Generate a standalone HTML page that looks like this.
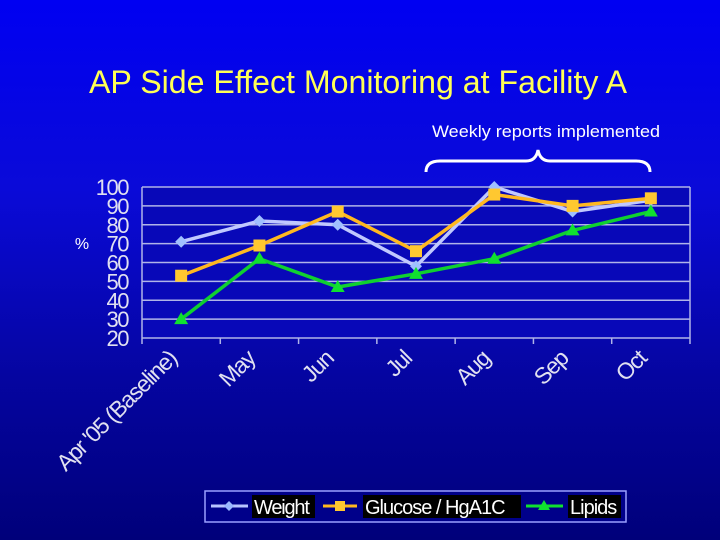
<!DOCTYPE html>
<html><head><meta charset="utf-8"><style>
html,body{margin:0;padding:0}
body{width:720px;height:540px;overflow:hidden;background:linear-gradient(#0000f2 0%,#0a0ad8 35%,#0505a0 70%,#00007a 100%);font-family:"Liberation Sans",sans-serif}
</style></head><body>
<svg id="c" width="720" height="540" xmlns="http://www.w3.org/2000/svg" style="position:absolute;left:0;top:0">
<text x="358" y="93" text-anchor="middle" font-size="32" fill="#ffff55" textLength="538" lengthAdjust="spacingAndGlyphs">AP Side Effect Monitoring at Facility A</text>
<text x="546" y="137" text-anchor="middle" font-size="17" fill="#ffffff" textLength="228" lengthAdjust="spacingAndGlyphs">Weekly reports implemented</text>
<path d="M426,172 Q426,161 440,161 L526,161 Q536,161 538,150 Q540,161 550,161 L636,161 Q650,161 650,172" fill="none" stroke="#fff" stroke-width="3"/>
<text x="82" y="249" text-anchor="middle" font-size="16" fill="#fff">%</text>
<g id="plot"></g>
<g>
<rect x="205" y="491" width="421" height="31" fill="#00008a" stroke="#9aa0ff" stroke-width="1.5"/>
<g><line x1="211" y1="506" x2="248" y2="506" stroke="#b8c4ff" stroke-width="3"/><path d="M229,501 l5,5 l-5,5 l-5,-5z" fill="#9ab8ff"/><rect x="252" y="495" width="63" height="23" fill="#000"/><text x="254" y="514" font-size="20" fill="#fff" letter-spacing="-1.2">Weight</text></g>
<g><line x1="323" y1="506" x2="357" y2="506" stroke="#ffb820" stroke-width="3"/><rect x="335" y="501" width="10" height="10" fill="#ffc830"/><rect x="363" y="495" width="158" height="23" fill="#000"/><text x="365" y="514" font-size="20" fill="#fff" letter-spacing="-1">Glucose / HgA1C</text></g>
<g><line x1="526" y1="506" x2="563" y2="506" stroke="#10e030" stroke-width="3"/><path d="M544,500 l6,10 h-12z" fill="#10e030"/><rect x="568" y="495" width="53" height="23" fill="#000"/><text x="570" y="514" font-size="20" fill="#fff" letter-spacing="-1">Lipids</text></g>
</g>
</svg>
<script>
const categories=["Apr '05 (Baseline)","May","Jun","Jul","Aug","Sep","Oct"];
const weight=[71,82,80,58,100,87,93];
const glucose=[53,69,87,66,96,90,94];
const lipids=[30,62,47,54,62,77,87];
const yTicks=[20,30,40,50,60,70,80,90,100];
const NS="http://www.w3.org/2000/svg";
const L=142,R=690,T=187,B=338;
const g=document.getElementById('plot');
const xs=i=>L+(i+0.5)*(R-L)/categories.length;
const ys=v=>B-(v-20)/80*(B-T);
function mk(t,a){const e=document.createElementNS(NS,t);for(const k in a)e.setAttribute(k,a[k]);g.appendChild(e);return e;}
let bg=mk('rect',{x:L,y:T,width:R-L,height:B-T,fill:'#0808b8'});


yTicks.forEach(v=>{
 let l=mk('line',{x1:L,x2:R,y1:ys(v),y2:ys(v),stroke:'#b0b4e8','stroke-width':1.5});
 
 
 let t=mk('text',{x:L-14,y:ys(v)+8,'text-anchor':'end','font-size':22,fill:'#e0e0f0','letter-spacing':-1.5});
 t.textContent=v;
 
 
});
let ax=mk('line',{x1:L,x2:L,y1:T,y2:B,stroke:'#b0b4e8','stroke-width':1.5});


let rb=mk('line',{x1:R,x2:R,y1:T,y2:B,stroke:'#b0b4e8','stroke-width':1.5});


for(let i=0;i<=categories.length;i++){
 let x=L+i*(R-L)/categories.length;
 let tk=mk('line',{x1:x,x2:x,y1:B,y2:B+6,stroke:'#b0b4e8','stroke-width':1.5});
 
 
}
categories.forEach((c,i)=>{
 let x=xs(i)-3,y=B+22;
 let t=mk('text',{x:x,y:y,'text-anchor':'end','font-size':23,fill:'#e0e0f0','letter-spacing':-1.3,transform:`rotate(-45 ${x} ${y})`});
 t.textContent=c;
 
 
});
function series(vals,color,mcolor,shape,name){
 let p=mk('polyline',{points:vals.map((v,i)=>xs(i)+','+ys(v)).join(' '),fill:'none',stroke:color,'stroke-width':3.5});
 
 
 vals.forEach((v,i)=>{
  let x=xs(i),y=ys(v),m;
  if(shape==='d')m=mk('path',{d:`M${x},${y-6} l6,6 l-6,6 l-6,-6z`,fill:mcolor});
  else if(shape==='s')m=mk('rect',{x:x-6,y:y-6,width:12,height:12,fill:mcolor});
  else m=mk('path',{d:`M${x},${y-7} l7,12 h-14z`,fill:mcolor});
  
  
 });
}
series(weight,'#c0c8ff','#a0c0ff','d','weight');
series(glucose,'#ffb820','#ffc830','s','glucose');
series(lipids,'#10d030','#10e030','t','lipids');
</script>
</body></html>
